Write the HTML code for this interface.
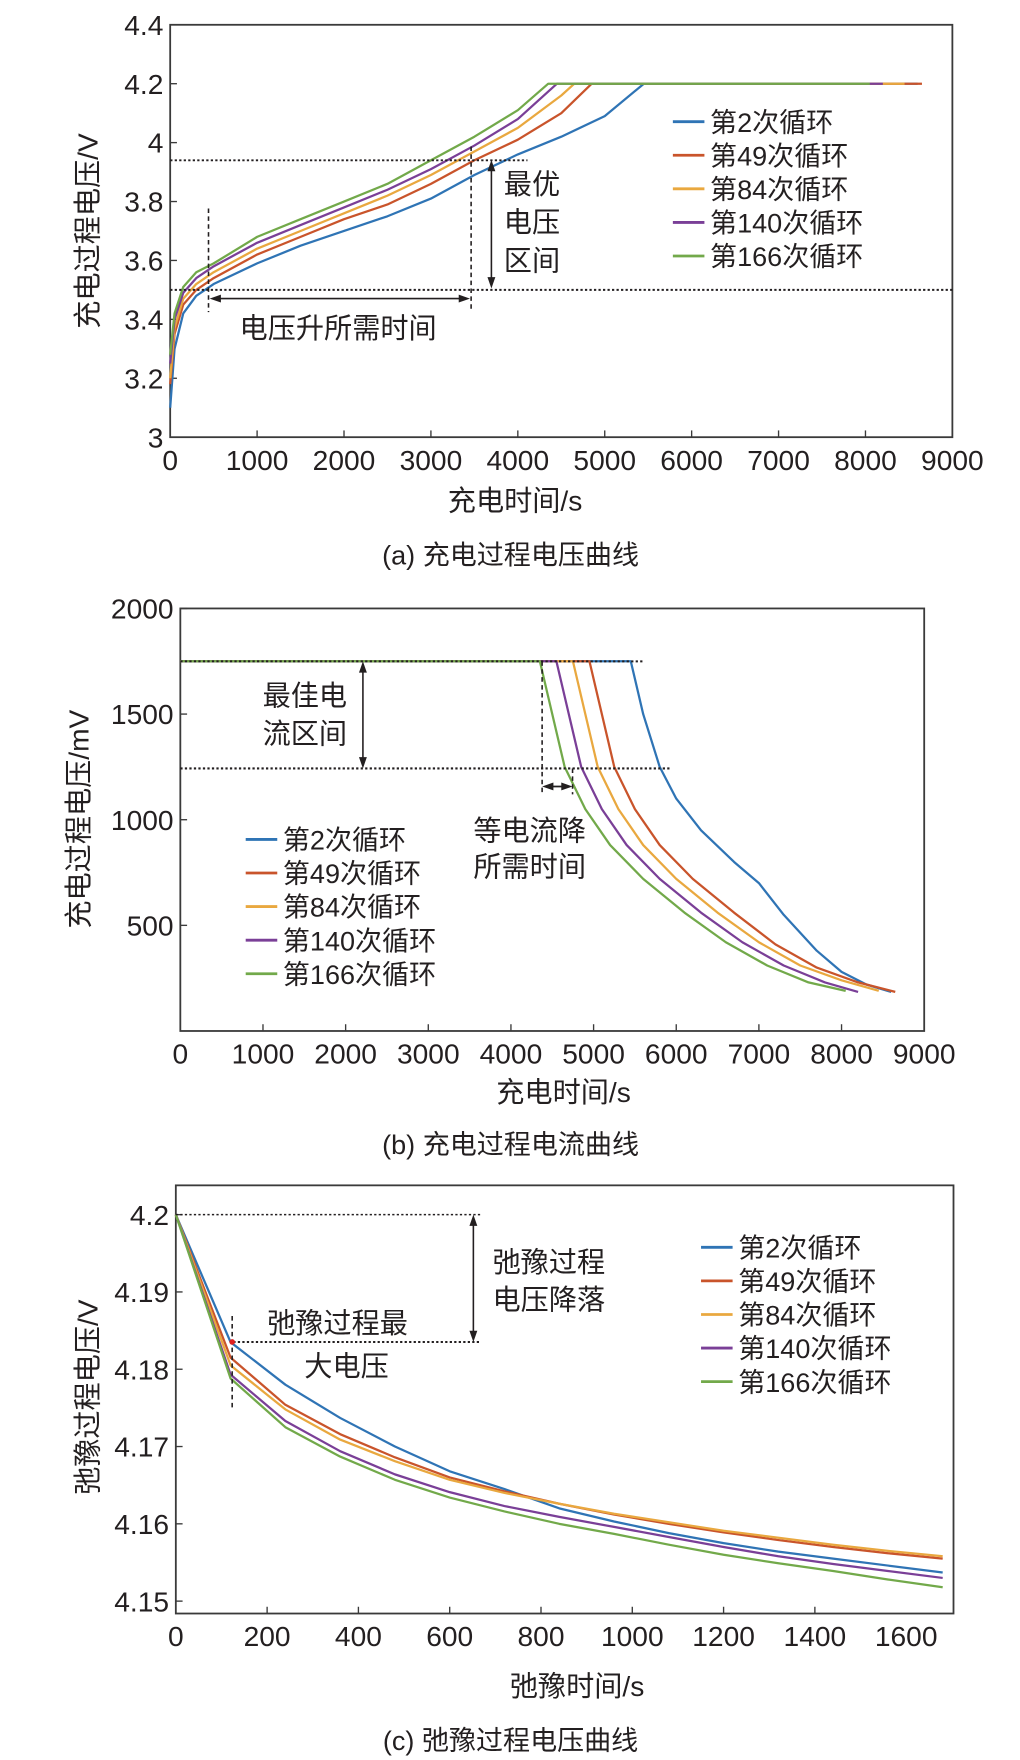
<!DOCTYPE html>
<html><head><meta charset="utf-8">
<style>
html,body{margin:0;padding:0;background:#fff;}
svg{display:block;}
text{font-family:"Liberation Sans","Noto Sans CJK SC",sans-serif;fill:#231f20;}
</style></head>
<body>
<svg id="fig" width="1020" height="1760" viewBox="0 0 905 1562" preserveAspectRatio="none" xmlns="http://www.w3.org/2000/svg"></svg>
<script>
// ---------- data: (a) charge voltage ----------
const aT2 = [0,50,150,300,500,1000,1500,2000,2500,3000,3500,4000,4500,5000,5450,8600];
const aV2 = [3.1,3.3,3.42,3.48,3.52,3.59,3.65,3.70,3.75,3.81,3.89,3.96,4.02,4.09,4.2,4.2];
const aT49 = [0,50,150,300,500,1000,1500,2000,2500,3000,3500,4000,4500,4850,8650];
const aV49 = [3.18,3.35,3.45,3.50,3.54,3.62,3.68,3.74,3.79,3.86,3.94,4.01,4.10,4.2,4.2];
const aT84 = [0,50,150,300,500,1000,1500,2000,2500,3000,3500,4000,4500,4650,8450];
const aV84 = [3.2,3.37,3.47,3.52,3.56,3.64,3.70,3.76,3.82,3.89,3.97,4.05,4.16,4.2,4.2];
const aT140 = [0,50,150,300,500,1000,1500,2000,2500,3000,3500,4000,4450,8200];
const aV140 = [3.25,3.40,3.49,3.54,3.58,3.66,3.72,3.78,3.84,3.91,3.99,4.08,4.2,4.2];
const aT166 = [0,50,150,300,500,1000,1500,2000,2500,3000,3500,4000,4350,8050];
const aV166 = [3.28,3.42,3.51,3.56,3.59,3.68,3.74,3.80,3.86,3.94,4.02,4.11,4.2,4.2];
const aYTicks = ["3","3.2","3.4","3.6","3.8","4","4.2","4.4"];
const aXTicks = ["0","1000","2000","3000","4000","5000","6000","7000","8000","9000"];
// ---------- data: (b) charge current ----------
const bT2 = [0,5450,5600,5800,6000,6300,6700,7000,7300,7700,8000,8300,8600];
const bI2 = [1750,1750,1500,1250,1100,950,800,700,550,380,280,220,185];
const bT49 = [0,4950,5100,5250,5500,5800,6200,6700,7200,7700,8200,8650];
const bI49 = [1750,1750,1500,1250,1050,880,720,560,410,300,230,185];
const bT84 = [0,4750,4900,5050,5300,5600,6000,6500,7000,7500,8000,8450];
const bI84 = [1750,1750,1500,1250,1050,880,720,560,420,310,240,190];
const bT140 = [0,4550,4700,4850,5100,5400,5800,6300,6800,7300,7800,8200];
const bI140 = [1750,1750,1500,1250,1050,880,720,560,420,310,230,185];
const bT166 = [0,4350,4500,4650,4900,5200,5600,6100,6600,7100,7600,8050];
const bI166 = [1750,1750,1500,1250,1050,880,720,560,420,310,230,190];
const bYTicks = ["500","1000","1500","2000"];
const bXTicks = ["0","1000","2000","3000","4000","5000","6000","7000","8000","9000"];
// ---------- data: (c) relaxation voltage ----------
const cT = [0,120,240,360,480,600,720,840,960,1080,1200,1320,1440,1560,1680];
const cV2 = [4.2,4.1835,4.178,4.1737,4.170,4.1668,4.1645,4.1620,4.1603,4.1588,4.1575,4.1564,4.1555,4.1546,4.1537];
const cV49 = [4.2,4.1815,4.1754,4.1716,4.1686,4.1660,4.1642,4.1626,4.1612,4.1600,4.1589,4.1579,4.1570,4.1562,4.1555];
const cV84 = [4.2,4.1805,4.1748,4.1709,4.1681,4.1657,4.1640,4.1626,4.1613,4.1602,4.1591,4.1582,4.1573,4.1565,4.1558];
const cV140 = [4.2,4.1793,4.1733,4.1694,4.1664,4.1641,4.1623,4.1609,4.1596,4.1583,4.1570,4.1558,4.1548,4.1539,4.1530];
const cV166 = [4.2,4.1788,4.1725,4.1687,4.1657,4.1634,4.1616,4.1600,4.1587,4.1573,4.1560,4.1549,4.1539,4.1528,4.1518];
const cYTicks = ["4.15","4.16","4.17","4.18","4.19","4.2"];
const cXTicks = ["0","200","400","600","800","1000","1200","1400","1600"];
const legendLabels = ["第2次循环","第49次循环","第84次循环","第140次循环","第166次循环"];
const colors = ["#2f74b5","#c9542b","#e9a83f","#7a3f97","#72a94a"];

const NS="http://www.w3.org/2000/svg";
const svg=document.getElementById('fig');
function mk(tag,attrs,parent){const e=document.createElementNS(NS,tag);for(const k in attrs)e.setAttribute(k,attrs[k]);(parent||svg).appendChild(e);return e;}
function txt(s,x,y,size,anchor,parent){const t=mk('text',{x:x,y:y,'font-size':size,'text-anchor':anchor||'start'},parent);t.textContent=s;return t;}
function lin(x1,y1,x2,y2,stroke,w,dash,parent){return mk('line',{x1:x1,y1:y1,x2:x2,y2:y2,stroke:stroke,'stroke-width':w,'stroke-dasharray':dash||'none'},parent);}
function arrowHead(x,y,dir,parent){
  let p;
  if(dir==='up')p=`${x},${y} ${x-3.5},${y+10} ${x+3.5},${y+10}`;
  if(dir==='down')p=`${x},${y} ${x-3.5},${y-10} ${x+3.5},${y-10}`;
  if(dir==='left')p=`${x},${y} ${x+10},${y-3.5} ${x+10},${y+3.5}`;
  if(dir==='right')p=`${x},${y} ${x-10},${y-3.5} ${x-10},${y+3.5}`;
  return mk('polygon',{points:p,fill:'#231f20'},parent);
}
function axes(g,L,T,R,B,xT,yT,xPos,yPos,fs){
  mk('rect',{x:L,y:T,width:R-L,height:B-T,fill:'none',stroke:'#3a3a3a','stroke-width':1.6},g);
  xT.forEach((s,i)=>{const x=xPos(+s);if(i>0&&i<xT.length-1)lin(x,B,x,B-6,'#3a3a3a',1.2,null,g);
    const t=txt(s,x,B+29,fs,'middle',g);});
  yT.forEach((s,i)=>{const y=yPos(+s);lin(L,y,L+6,y,'#3a3a3a',1.2,null,g);
    const t=txt(s,L-6,y+9,fs,'end',g);});
}
function series(g,xs,ys,xPos,yPos,color,name){
  const d=xs.map((x,i)=>(i?'L':'M')+xPos(x).toFixed(2)+','+yPos(ys[i]).toFixed(2)).join(' ');
  const p=mk('path',{d:d,fill:'none',stroke:color,'stroke-width':2,'stroke-linejoin':'round'},g);
  
  
}
function legend(g,x,y0,dy){
  legendLabels.forEach((s,i)=>{const y=y0+dy*i;
    const e=mk('g',{},g);
    
    
    lin(x,y,x+28,y,colors[i],2.5,null,e);txt(s,x+33,y+9,24,'start',e);});
}
function vtext(g,s,x,cy,size){const t=txt(s,x,cy,size,'middle',g);t.setAttribute('transform',`rotate(-90 ${x} ${cy})`);t.setAttribute('dominant-baseline','middle');return t;}

// ===== chart (a) =====
(function(){
  const g=mk('g',{});
  const L=151,R=845,T=22,B=388;
  const xPos=v=>L+(v/9000)*(R-L), yPos=v=>B-(v-3)/1.4*(B-T);
  axes(g,L,T,R,B,aXTicks,aYTicks,xPos,yPos,25);
  const S=[[aT2,aV2],[aT49,aV49],[aT84,aV84],[aT140,aV140],[aT166,aV166]];
  S.forEach((s,i)=>series(g,s[0],s[1],xPos,yPos,colors[i],'series-cycle-'+legendLabels[i]));
  lin(L,yPos(3.94),468,yPos(3.94),'#231f20',1.6,'2,2',g);
  lin(L,yPos(3.5),R,yPos(3.5),'#231f20',1.8,'2,2',g);
  lin(185,185,185,277,'#231f20',1.4,'4,3',g);
  lin(418,130,418,277,'#231f20',1.4,'4,3',g);
  lin(190,265,413,265,'#231f20',1.4,null,g);arrowHead(186,265,'left',g);arrowHead(417,265,'right',g);
  lin(436,146,436,252,'#231f20',1.4,null,g);arrowHead(436,142,'up',g);arrowHead(436,256,'down',g);
  txt('电压升所需时间',300,300,25,'middle',g);
  txt('最优',447,172,25,'start',g);txt('电压',447,206,25,'start',g);txt('区间',447,240,25,'start',g);
  legend(g,597,108,29.8);
  vtext(g,'充电过程电压/V',80,205,25);
  txt('充电时间/s',457,453,25,'middle',g);
  txt('(a) 充电过程电压曲线',453,501,24,'middle',g);
})();

// ===== chart (b) =====
(function(){
  const g=mk('g',{});
  const L=160,R=820,T=540,B=915;
  const xPos=v=>L+(v/9000)*(R-L), yPos=v=>B-(v/2000)*(B-T);
  axes(g,L,T,R,B,bXTicks,bYTicks,xPos,yPos,25);
  const S=[[bT2,bI2],[bT49,bI49],[bT84,bI84],[bT140,bI140],[bT166,bI166]];
  S.forEach((s,i)=>series(g,s[0],s[1],xPos,yPos,colors[i],'series-cycle-'+legendLabels[i]));
  lin(L,587,570,587,'#231f20',1.8,'2,2',g);
  lin(L,682,595,682,'#231f20',1.8,'2,2',g);
  lin(322,591,322,678,'#231f20',1.4,null,g);arrowHead(322,587,'up',g);arrowHead(322,682,'down',g);
  lin(481,587,481,705,'#231f20',1.4,'4,3',g);lin(508,682,508,705,'#231f20',1.4,'4,3',g);
  lin(484,698,505,698,'#231f20',1.6,null,g);arrowHead(481,698,'left',g);arrowHead(508,698,'right',g);
  txt('最佳电',233,626,25,'start',g);txt('流区间',233,660,25,'start',g);
  txt('等电流降',420,746,25,'start',g);txt('所需时间',420,778,25,'start',g);
  legend(g,218,745,29.8);
  vtext(g,'充电过程电压/mV',72,727,25);
  txt('充电时间/s',500,978,25,'middle',g);
  txt('(b) 充电过程电流曲线',453,1024,24,'middle',g);
})();

// ===== chart (c) =====
(function(){
  const g=mk('g',{});
  const L=156,R=846,T=1052,B=1432;
  const xPos=v=>L+(v/1600)*(804-156), yPos=v=>1078+(4.2-v)/0.05*(1421-1078);
  axes(g,L,T,R,B,cXTicks,cYTicks,xPos,yPos,25);
  const S=[cV2,cV49,cV84,cV140,cV166];
  S.forEach((s,i)=>series(g,cT,s,xPos,yPos,colors[i],'series-cycle-'+legendLabels[i]));
  lin(L,1078,428,1078,'#231f20',1.4,'2,2',g);
  lin(207,1191,425,1191,'#231f20',1.8,'2,2',g);
  lin(420,1082,420,1187,'#231f20',1.4,null,g);arrowHead(420,1078,'up',g);arrowHead(420,1191,'down',g);
  lin(206,1168,206,1252,'#231f20',1.4,'4,3',g);
  mk('circle',{cx:206,cy:1191,r:2.5,fill:'#e02020'},g);
  txt('弛豫过程最',237,1183,25,'start',g);txt('大电压',270,1221,25,'start',g);
  txt('弛豫过程',437,1129,25,'start',g);txt('电压降落',437,1162,25,'start',g);
  legend(g,622,1107,29.8);
  vtext(g,'弛豫过程电压/V',80,1240,25);
  txt('弛豫时间/s',512,1505,25,'middle',g);
  txt('(c) 弛豫过程电压曲线',453,1553,24,'middle',g);
})();
</script>
</body></html>
